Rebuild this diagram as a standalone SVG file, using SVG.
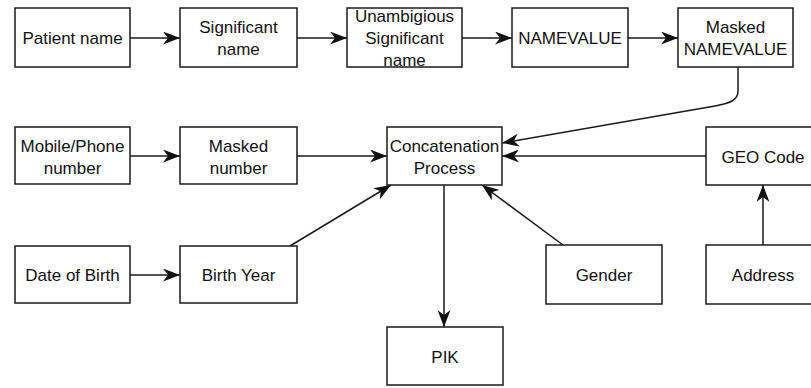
<svg xmlns="http://www.w3.org/2000/svg" width="811" height="388" viewBox="0 0 811 388">
  <style>
    .box rect { fill: #ffffff; stroke: #1a1a1a; stroke-width: 1.5; }
    .box text { font-family: "Liberation Sans", Arial, sans-serif; font-size: 17px; fill: #111111; text-anchor: middle; }
    .edge { fill: none; stroke: #1a1a1a; stroke-width: 1.5; marker-end: url(#arrow); }
  </style>
  <defs>
    <marker id="arrow" viewBox="0 0 17 13" refX="17" refY="6.5" markerWidth="17" markerHeight="13" markerUnits="userSpaceOnUse" orient="auto">
      <path d="M0,0 L17,6.5 L0,13 L5,6.5 Z" fill="#111111"/>
    </marker>
  </defs>
  <rect width="811" height="388" fill="#ffffff"/>

  <!-- connectors -->
  <g id="connectors">
    <path class="edge" d="M130,38 L180,38"/>
    <path class="edge" d="M297,38 L347,38"/>
    <path class="edge" d="M462,38 L512,38"/>
    <path class="edge" d="M628,38 L678,38"/>
    <path class="edge" d="M738,67 L738,91 C738,100 731,103 715,106 L502,143"/>
    <path class="edge" d="M130,156 L180,156"/>
    <path class="edge" d="M297,156 L387,156"/>
    <path class="edge" d="M706,156 L502,156"/>
    <path class="edge" d="M130,275 L180,275"/>
    <path class="edge" d="M290,246 L391,185"/>
    <path class="edge" d="M563,245 L482,185"/>
    <path class="edge" d="M444,185 L444,327"/>
    <path class="edge" d="M763,246 L763,185"/>
  </g>

  <!-- top row: name processing -->
  <g id="patient-name" class="box">
    <rect x="15" y="8" width="115" height="59"/>
    <text x="72.5" y="44">Patient name</text>
  </g>
  <g id="significant-name" class="box">
    <rect x="180" y="8" width="117" height="59"/>
    <text x="238.5" y="33">Significant</text>
    <text x="238.5" y="55">name</text>
  </g>
  <g id="unambiguous-name" class="box">
    <rect x="347" y="8" width="115" height="59"/>
    <text x="404.5" y="22">Unambigious</text>
    <text x="404.5" y="44">Significant</text>
    <text x="404.5" y="65.5">name</text>
  </g>
  <g id="namevalue" class="box">
    <rect x="512" y="8" width="116" height="59"/>
    <text x="570" y="44">NAMEVALUE</text>
  </g>
  <g id="masked-namevalue" class="box">
    <rect x="678" y="8" width="115" height="59"/>
    <text x="735.5" y="33">Masked</text>
    <text x="735.5" y="55">NAMEVALUE</text>
  </g>

  <!-- middle row -->
  <g id="mobile-number" class="box">
    <rect x="15" y="127" width="115" height="57"/>
    <text x="72.5" y="152">Mobile/Phone</text>
    <text x="72.5" y="174">number</text>
  </g>
  <g id="masked-number" class="box">
    <rect x="180" y="127" width="117" height="57"/>
    <text x="238.5" y="152">Masked</text>
    <text x="238.5" y="174">number</text>
  </g>
  <g id="concatenation" class="box">
    <rect x="387" y="127" width="115" height="58"/>
    <text x="444.5" y="152">Concatenation</text>
    <text x="444.5" y="174">Process</text>
  </g>
  <g id="geo-code" class="box">
    <rect x="706" y="127" width="115" height="58"/>
    <text x="763" y="163">GEO Code</text>
  </g>

  <!-- bottom rows -->
  <g id="date-of-birth" class="box">
    <rect x="15" y="246" width="115" height="57"/>
    <text x="72.5" y="281">Date of Birth</text>
  </g>
  <g id="birth-year" class="box">
    <rect x="180" y="246" width="117" height="57"/>
    <text x="238.5" y="281">Birth Year</text>
  </g>
  <g id="gender" class="box">
    <rect x="546" y="245" width="116" height="59"/>
    <text x="604" y="281">Gender</text>
  </g>
  <g id="address" class="box">
    <rect x="706" y="245" width="115" height="59"/>
    <text x="763" y="281">Address</text>
  </g>
  <g id="pik" class="box">
    <rect x="387" y="327" width="116" height="58"/>
    <text x="445" y="363">PIK</text>
  </g>
</svg>
